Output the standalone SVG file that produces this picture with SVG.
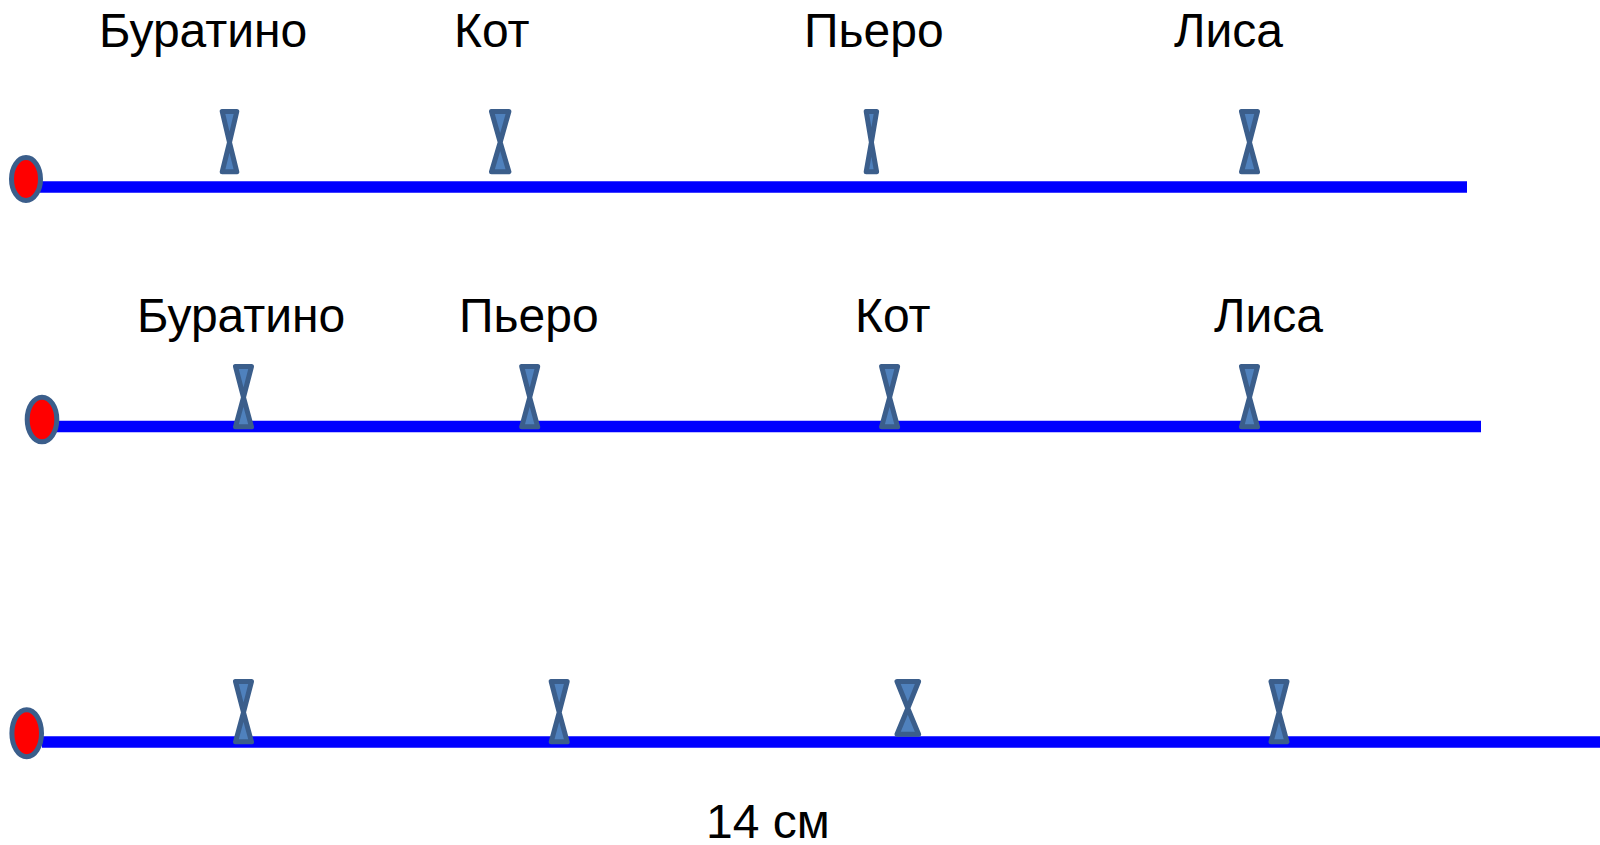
<svg xmlns="http://www.w3.org/2000/svg" width="1600" height="845" viewBox="0 0 1600 845">
<style>
.ln{stroke:#0000ff;stroke-width:11.5;fill:none}
.mk{fill:#4f81bd;stroke:#3b5e8b;stroke-width:5;stroke-linejoin:round}
.dot{fill:#ff0000;stroke:#3b5e8b;stroke-width:5}
.t{font-family:"Liberation Sans",Arial,sans-serif;font-size:48px;fill:#000}
</style>
<rect width="1600" height="845" fill="#ffffff"/>
<g id="connectors">
<line class="ln" x1="40" y1="187" x2="1467" y2="187"/>
<line class="ln" x1="56" y1="426.5" x2="1481" y2="426.5"/>
<line class="ln" x1="42" y1="742" x2="1600" y2="742"/>
</g>
<g id="row1">
<ellipse id="start1" class="dot" cx="26" cy="179" rx="14.5" ry="21.5"/>
<g id="r1-buratino"><path class="mk" d="M222.2,111.5 L236.8,111.5 L229.5,142.3 Z M229.5,142.3 L236.8,171.8 L222.2,171.8 Z"/><text class="t" x="99" y="47">Буратино</text></g>
<g id="r1-kot"><path class="mk" d="M491.5,111.5 L508.9,111.5 L500.2,142.3 Z M500.2,142.3 L508.9,171.8 L491.5,171.8 Z"/><text class="t" x="454" y="47">Кот</text></g>
<g id="r1-piero"><path class="mk" d="M866.2,111.5 L876.6,111.5 L871.4,142.3 Z M871.4,142.3 L876.6,171.8 L866.2,171.8 Z"/><text class="t" x="804" y="47">Пьеро</text></g>
<g id="r1-lisa"><path class="mk" d="M1241.5,111.5 L1257.5,111.5 L1249.5,142.3 Z M1249.5,142.3 L1257.5,171.8 L1241.5,171.8 Z"/><text class="t" x="1174" y="47">Лиса</text></g>
</g>
<g id="row2">
<ellipse id="start2" class="dot" cx="42" cy="419.5" rx="14.8" ry="22.3"/>
<g id="r2-buratino"><path class="mk" d="M235.5,366.5 L251.5,366.5 L243.5,397.3 Z M243.5,397.3 L251.5,426.8 L235.5,426.8 Z"/><text class="t" x="137" y="332">Буратино</text></g>
<g id="r2-piero"><path class="mk" d="M521.7,366.5 L537.7,366.5 L529.7,397.3 Z M529.7,397.3 L537.7,426.8 L521.7,426.8 Z"/><text class="t" x="459" y="332">Пьеро</text></g>
<g id="r2-kot"><path class="mk" d="M881.6,366.5 L897.6,366.5 L889.6,397.3 Z M889.6,397.3 L897.6,426.8 L881.6,426.8 Z"/><text class="t" x="855" y="332">Кот</text></g>
<g id="r2-lisa"><path class="mk" d="M1241.5,366.5 L1257.5,366.5 L1249.5,397.3 Z M1249.5,397.3 L1257.5,426.8 L1241.5,426.8 Z"/><text class="t" x="1214" y="332">Лиса</text></g>
</g>
<g id="row3">
<ellipse id="start3" class="dot" cx="26.7" cy="733.3" rx="14.8" ry="23.5"/>
<g id="r3-m1"><path class="mk" d="M235.5,681.5 L251.5,681.5 L243.5,712.3 Z M243.5,712.3 L251.5,741.8 L235.5,741.8 Z"/></g>
<g id="r3-m2"><path class="mk" d="M551.2,681.5 L567.2,681.5 L559.2,712.3 Z M559.2,712.3 L567.2,741.8 L551.2,741.8 Z"/></g>
<g id="r3-m3"><path class="mk" d="M897,681.5 L918.6,681.5 L907.8,708.3 Z M907.8,708.3 L918.6,734.2 L897,734.2 Z"/></g>
<g id="r3-m4"><path class="mk" d="M1271,681.5 L1287,681.5 L1279,712.3 Z M1279,712.3 L1287,741.8 L1271,741.8 Z"/></g>
<text id="length" class="t" x="706" y="838">14 см</text>
</g>
</svg>
